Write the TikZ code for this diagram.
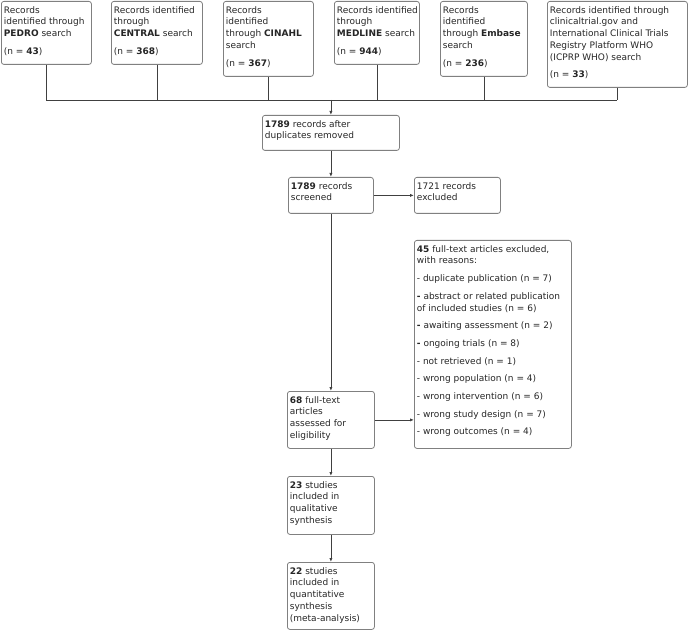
\documentclass[tikz,border=0pt]{standalone}
\usepackage{fontspec}
\setmainfont{DejaVu Sans}
\usetikzlibrary{arrows.meta}

\definecolor{framecolor}{rgb}{0.50,0.50,0.50}
\definecolor{linkcolor}{rgb}{0.25,0.25,0.25}
\definecolor{textcolor}{rgb}{0.15,0.15,0.15}

%% top-aligned text block inside a box: width, height, text
\newcommand{\boxtext}[3]{\parbox[t][#2][t]{#1}{\vspace*{2.5pt}\raggedright #3}}

\begin{document}
\begin{tikzpicture}[
    x=1pt, y=-1pt,
    font=\fontsize{9}{11.7}\selectfont,
    %% Main column centre: x = 330.5   (all coordinates in pixels of the flow chart)
    %% Merge line:         y = 100
    fbox/.style={draw=framecolor, line width=0.8pt, rounded corners=2.5pt,
                 anchor=north west, inner xsep=2.5pt, inner ysep=2.5pt,
                 text=textcolor},
    link/.style={draw=linkcolor, line width=0.8pt},
    flow/.style={link, -{Latex[length=4pt,width=3.2pt]}},
]

\useasboundingbox (0,0) rectangle (688,631);

%% ── Identification ───────────────────────────────────────────────────────
\node[fbox] (pedro) at (1,1)
    {\boxtext{85pt}{58pt}{Records\\identified through\\\textbf{PEDRO} search\\[6pt]
     (n = \textbf{43})}};

\node[fbox] (central) at (111,1)
    {\boxtext{86pt}{58pt}{Records identified\\through\\\textbf{CENTRAL} search\\[6pt]
     (n = \textbf{368})}};

\node[fbox] (cinahl) at (223,1)
    {\boxtext{85pt}{70pt}{Records\\identified\\through \textbf{CINAHL}\\search\\[6pt]
     (n = \textbf{367})}};

\node[fbox] (medline) at (334,1)
    {\boxtext{80pt}{58pt}{\mbox{Records identified}\\through\\\textbf{MEDLINE} search\\[6pt]
     (n = \textbf{944})}};

\node[fbox] (embase) at (440,1)
    {\boxtext{82pt}{70pt}{Records\\identified\\through \textbf{Embase}\\search\\[6pt]
     (n = \textbf{236})}};

\node[fbox] (ictrp) at (547,1)
    {\boxtext{135pt}{81pt}{Records identified through\\clinicaltrial.gov and\\International Clinical Trials\\Registry Platform WHO\\(ICPRP WHO) search\\[6pt]
     (n = \textbf{33})}};

\coordinate (merge) at (330.5,100);

%% ── Screening ────────────────────────────────────────────────────────────
\node[fbox] (dup) at (262,115)
    {\boxtext{132pt}{30pt}{\textbf{1789} records after\\duplicates removed}};

\node[fbox] (screened) at (288,177)
    {\boxtext{80pt}{31pt}{\textbf{1789} records\\screened}};

\node[fbox] (excl1) at (414,177)
    {\boxtext{81pt}{31pt}{1721 records\\excluded}};

%% ── Eligibility ──────────────────────────────────────────────────────────
\node[fbox] (fulltext) at (287,391)
    {\boxtext{82pt}{52pt}{\textbf{68} full-text\\articles\\assessed for\\eligibility}};

\node[fbox] (excl2) at (414,240)
    {\boxtext{152pt}{203pt}{\textbf{45} full-text articles excluded,\\with reasons:\\[6pt]
     - duplicate publication (n = 7)\\[6pt]
     \textbf{-} abstract or related publication\\of included studies (n = 6)\\[6pt]
     \textbf{-} awaiting assessment (n = 2)\\[6pt]
     \textbf{-} ongoing trials (n = 8)\\[6pt]
     - not retrieved (n = 1)\\[6pt]
     - wrong population (n = 4)\\[6pt]
     - wrong intervention (n = 6)\\[6pt]
     - wrong study design (n = 7)\\[6pt]
     - wrong outcomes (n = 4)}};

%% ── Included ─────────────────────────────────────────────────────────────
\node[fbox] (qual) at (287,476)
    {\boxtext{82pt}{53pt}{\textbf{23} studies\\included in\\qualitative\\synthesis}};

\node[fbox] (quant) at (287,562)
    {\boxtext{82pt}{62pt}{\textbf{22} studies\\included in\\quantitative\\synthesis\\(meta-analysis)}};

%% ── Connectors ───────────────────────────────────────────────────────────
\foreach \src in {pedro,central,cinahl,medline,embase,ictrp}
    \draw[link] (\src.south) -- (\src.south |- merge);
\draw[link] (pedro.south |- merge) -- (ictrp.south |- merge);
\draw[flow] (dup.north |- merge) -- (dup.north);

\draw[flow] (dup.south) -- (screened.north);
\draw[flow] (screened.east) -- (excl1.west);
\draw[flow] (screened.south) -- (fulltext.north);
\draw[flow] (fulltext.east) -- (fulltext.east -| excl2.west);
\draw[flow] (fulltext.south) -- (qual.north);
\draw[flow] (qual.south) -- (quant.north);

\end{tikzpicture}
\end{document}
